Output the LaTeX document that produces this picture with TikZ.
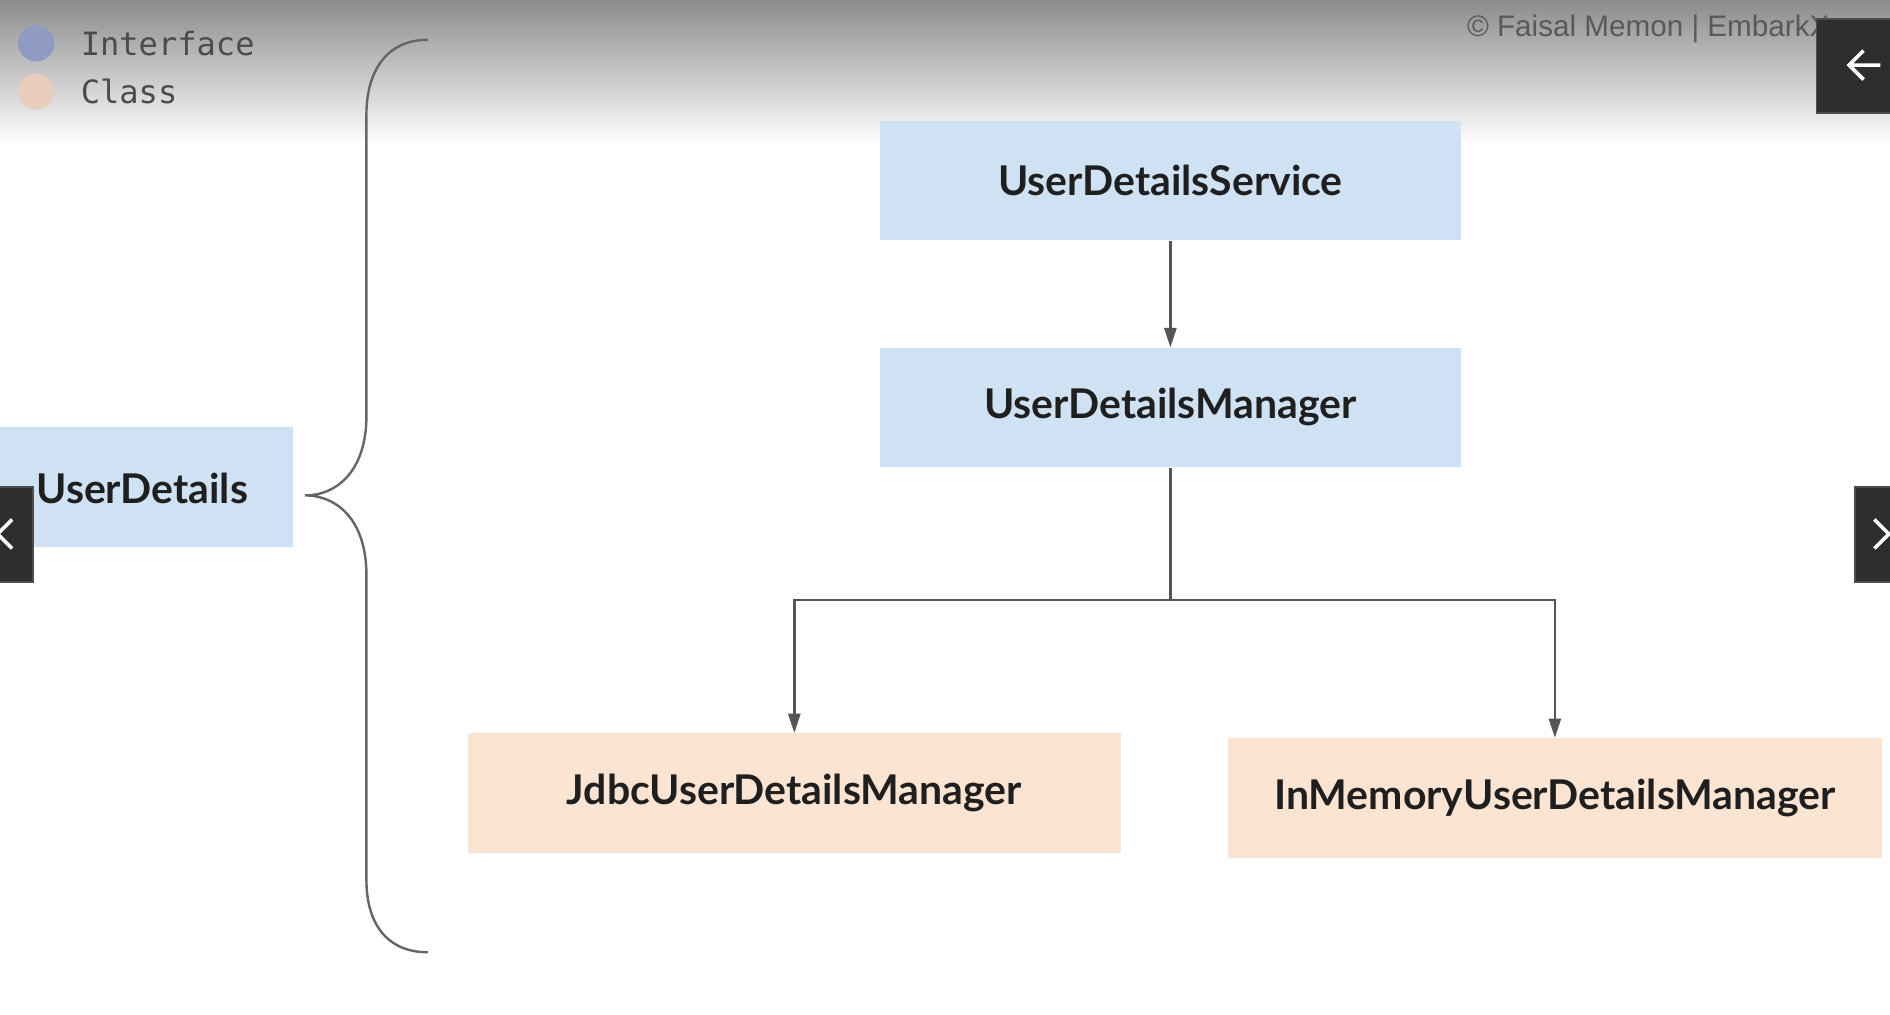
\documentclass[tikz,border=0pt]{standalone}
\usepackage{fontspec}
\setmainfont{Lato}
\newfontfamily\monofont{DejaVu Sans Mono}
\newfontfamily\markfont{Liberation Sans}
\usetikzlibrary{arrows.meta,positioning}
\definecolor{ifblue}{HTML}{CFE2F3}
\definecolor{clpeach}{HTML}{FCE4D3}
\definecolor{linegray}{HTML}{555555}
\definecolor{bracegray}{HTML}{666666}
\definecolor{btndark}{HTML}{2D2E30}
\definecolor{dotblue}{HTML}{8F9BC3}
\definecolor{dotpeach}{HTML}{E8CDBC}
\tikzset{
  ibox/.style={fill=ifblue,minimum width=241pt,minimum height=49.5pt,inner sep=0pt,
    font=\fontsize{17}{20}\selectfont\bfseries,text=black!88},
  cbox/.style={ibox,fill=clpeach,minimum width=271pt},
  conn/.style={->,draw=linegray,line width=1pt},
  btn/.style={fill=btndark,draw=gray!60!black,line width=0.8pt},
  legend/.style={anchor=west,font=\monofont\fontsize{13.3}{15}\selectfont,text=black!70}
}
\begin{document}
\begin{tikzpicture}[x=0.5pt,y=-0.5pt,>={Triangle[length=8pt,width=5pt]}]
\useasboundingbox (0,0) rectangle (1568,842);
\fill[white] (0,0) rectangle (1568,842);
\shade[top color={rgb,255:red,140;green,140;blue,140},bottom color=white] (0,0) rectangle (1568,120);
% legend
\fill[dotblue] (30,36) circle (15);
\fill[dotpeach] (30,76) circle (15);
\node[legend] (iface) at (60,36) {Interface};
\node[legend] (cls) at (60,76) {Class};
\node[anchor=west,font=\markfont\fontsize{12.3}{14}\selectfont,text=black!65] (mark) at (1210,24) {© Faisal Memon | EmbarkX};
% boxes
\node[ibox] (uds) at (971,150) {UserDetailsService};
\node[ibox] (udm) at (971,338) {UserDetailsManager};
\node[cbox] (jdbc) at (659,658) {JdbcUserDetailsManager};
\node[cbox] (inmem) at (1290,662) {InMemoryUserDetailsManager};
\node[ibox,minimum width=130pt] (ud) at (113,404) {};
\node[font=\fontsize{17}{20}\selectfont\bfseries,text=black!88] (udtxt) at (118,405) {UserDetails};
% connectors
\coordinate (split) at (971,498);
\draw[conn] (uds) -- (udm);
\draw[conn] (udm.south) -- (split) -| (jdbc.north);
\draw[conn] (split) -| (inmem.north);
% brace
\draw[bracegray,line width=1pt] (355,33) .. controls (320,33) and (304,60) .. (304,95)
  -- (304,345) .. controls (304,390) and (280,411) .. (253,411)
  .. controls (280,411) and (304,432) .. (304,477)
  -- (304,730) .. controls (304,765) and (320,790) .. (355,790);
% buttons
\draw[btn] (1507,16) rectangle (1575,94);
\draw[white,line width=1.5pt] (1560,54) -- (1535,54) (1546,42) -- (1534,54) -- (1546,66);
\draw[btn] (-10,404) rectangle (27,483);
\draw[white,line width=1.5pt] (10,431) -- (-2,443) -- (10,455);
\draw[btn] (1539,404) rectangle (1575,483);
\draw[white,line width=1.5pt] (1555,431) -- (1567,443) -- (1555,455);
\end{tikzpicture}
\end{document}
